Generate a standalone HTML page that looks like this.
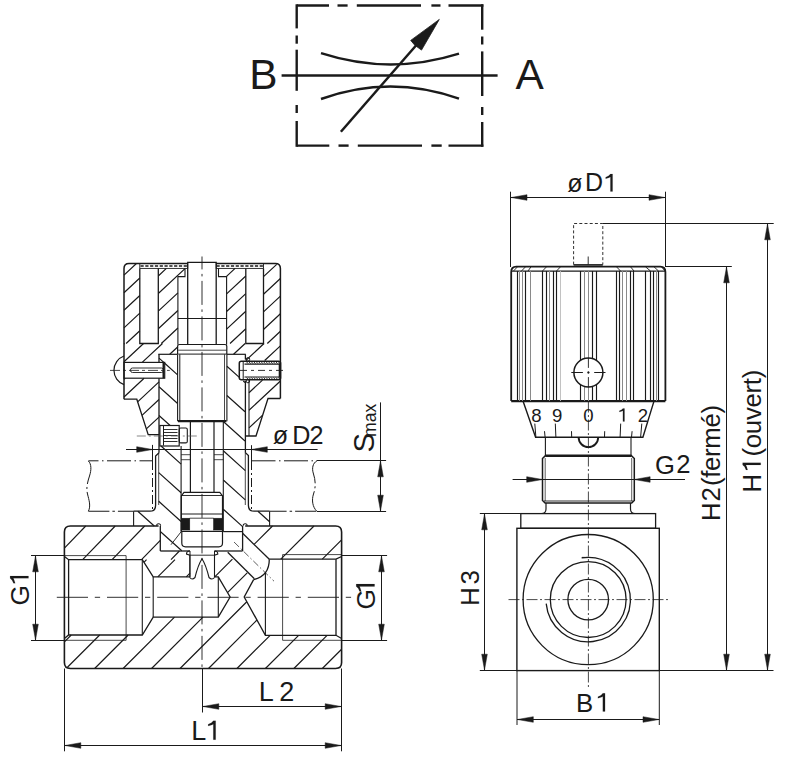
<!DOCTYPE html>
<html><head><meta charset="utf-8"><style>
html,body{margin:0;padding:0;background:#fff;}
body{width:788px;height:765px;overflow:hidden;}
svg{display:block;}
text{font-family:"Liberation Sans",sans-serif;fill:#1a1a1a;}
</style></head><body>
<svg width="788" height="765" viewBox="0 0 788 765">
<rect width="788" height="765" fill="#fff"/>
<line x1="296.7" y1="5.5" x2="329" y2="5.5" stroke="#1a1a1a" stroke-width="2.4" stroke-linecap="butt"/>
<line x1="337.5" y1="5.5" x2="347.6" y2="5.5" stroke="#1a1a1a" stroke-width="2.4" stroke-linecap="butt"/>
<line x1="356.8" y1="5.5" x2="421" y2="5.5" stroke="#1a1a1a" stroke-width="2.4" stroke-linecap="butt"/>
<line x1="431.4" y1="5.5" x2="440.5" y2="5.5" stroke="#1a1a1a" stroke-width="2.4" stroke-linecap="butt"/>
<line x1="448.5" y1="5.5" x2="483.4" y2="5.5" stroke="#1a1a1a" stroke-width="2.4" stroke-linecap="butt"/>
<line x1="296.7" y1="145.6" x2="329.3" y2="145.6" stroke="#1a1a1a" stroke-width="2.4" stroke-linecap="butt"/>
<line x1="338.5" y1="145.6" x2="348.6" y2="145.6" stroke="#1a1a1a" stroke-width="2.4" stroke-linecap="butt"/>
<line x1="357.8" y1="145.6" x2="422" y2="145.6" stroke="#1a1a1a" stroke-width="2.4" stroke-linecap="butt"/>
<line x1="431.4" y1="145.6" x2="441.7" y2="145.6" stroke="#1a1a1a" stroke-width="2.4" stroke-linecap="butt"/>
<line x1="448.5" y1="145.6" x2="483.4" y2="145.6" stroke="#1a1a1a" stroke-width="2.4" stroke-linecap="butt"/>
<line x1="296.7" y1="4.3" x2="296.7" y2="28.4" stroke="#1a1a1a" stroke-width="2.4" stroke-linecap="butt"/>
<line x1="296.7" y1="35.5" x2="296.7" y2="43.7" stroke="#1a1a1a" stroke-width="2.4" stroke-linecap="butt"/>
<line x1="296.7" y1="49.7" x2="296.7" y2="90.8" stroke="#1a1a1a" stroke-width="2.4" stroke-linecap="butt"/>
<line x1="296.7" y1="105" x2="296.7" y2="113" stroke="#1a1a1a" stroke-width="2.4" stroke-linecap="butt"/>
<line x1="296.7" y1="121" x2="296.7" y2="146.8" stroke="#1a1a1a" stroke-width="2.4" stroke-linecap="butt"/>
<line x1="482.2" y1="4.3" x2="482.2" y2="29.7" stroke="#1a1a1a" stroke-width="2.4" stroke-linecap="butt"/>
<line x1="482.2" y1="36.5" x2="482.2" y2="44.5" stroke="#1a1a1a" stroke-width="2.4" stroke-linecap="butt"/>
<line x1="482.2" y1="51.4" x2="482.2" y2="96" stroke="#1a1a1a" stroke-width="2.4" stroke-linecap="butt"/>
<line x1="482.2" y1="107" x2="482.2" y2="115" stroke="#1a1a1a" stroke-width="2.4" stroke-linecap="butt"/>
<line x1="482.2" y1="122" x2="482.2" y2="146.8" stroke="#1a1a1a" stroke-width="2.4" stroke-linecap="butt"/>
<line x1="281.6" y1="75.5" x2="497.6" y2="75.5" stroke="#1a1a1a" stroke-width="2.3" stroke-linecap="butt"/>
<path d="M321 53.2 Q390 75.5 459 53.7" fill="none" stroke="#1a1a1a" stroke-width="2.4" stroke-linecap="butt"/>
<path d="M321 99 Q390 74.2 459 98.7" fill="none" stroke="#1a1a1a" stroke-width="2.4" stroke-linecap="butt"/>
<line x1="340.9" y1="131.8" x2="416" y2="45.5" stroke="#1a1a1a" stroke-width="2.5" stroke-linecap="butt"/>
<polygon points="439.3,19.4 410.7,40.4 414.8,45.2 421.5,50.1" fill="#1a1a1a" stroke="#1a1a1a" stroke-width="0.8" stroke-linejoin="miter"/>
<line x1="588.2" y1="256.5" x2="588.2" y2="264.6" stroke="#1a1a1a" stroke-width="0.9" stroke-linecap="butt"/>
<line x1="588.4" y1="401.5" x2="588.4" y2="688" stroke="#1a1a1a" stroke-width="0.8" stroke-linecap="butt" stroke-dasharray="11 2.5 2 2.5"/>
<polyline points="573.6,264.6 573.6,223.5 602.8,223.5 602.8,264.6" fill="none" stroke="#1a1a1a" stroke-width="0.9" stroke-linejoin="miter" stroke-dasharray="3 2.2"/>
<line x1="573.6" y1="264.9" x2="602.8" y2="264.9" stroke="#1a1a1a" stroke-width="1.6" stroke-linecap="butt"/>
<line x1="602.8" y1="223.5" x2="773.7" y2="223.5" stroke="#1a1a1a" stroke-width="1" stroke-linecap="butt"/>
<line x1="665.5" y1="266.5" x2="731.8" y2="266.5" stroke="#1a1a1a" stroke-width="1" stroke-linecap="butt"/>
<line x1="510.5" y1="191.7" x2="510.5" y2="267" stroke="#1a1a1a" stroke-width="1" stroke-linecap="butt"/>
<line x1="665.5" y1="191.7" x2="665.5" y2="267" stroke="#1a1a1a" stroke-width="1" stroke-linecap="butt"/>
<line x1="510.5" y1="197.5" x2="665.5" y2="197.5" stroke="#1a1a1a" stroke-width="1" stroke-linecap="butt"/>
<polygon points="511.2,197.5 527,194.7 527,200.3" fill="#1a1a1a" stroke="#1a1a1a" stroke-width="0.5" stroke-linejoin="miter"/>
<polygon points="664.8,197.5 649,194.7 649,200.3" fill="#1a1a1a" stroke="#1a1a1a" stroke-width="0.5" stroke-linejoin="miter"/>
<path d="M511.2 401 L511.2 272 Q511.2 266.6 516.3 266.6 L660.3 266.6 Q665.4 266.6 665.4 272 L665.4 401" fill="none" stroke="#1a1a1a" stroke-width="1.8" stroke-linecap="butt"/>
<line x1="511.2" y1="271.2" x2="665.4" y2="271.2" stroke="#1a1a1a" stroke-width="1.3" stroke-linecap="butt"/>
<line x1="511.2" y1="401.1" x2="665.4" y2="401.1" stroke="#1a1a1a" stroke-width="2.2" stroke-linecap="butt"/>
<line x1="517.5" y1="271" x2="517.5" y2="401" stroke="#1a1a1a" stroke-width="1.15" stroke-linecap="butt"/>
<line x1="519.5" y1="271" x2="519.5" y2="401" stroke="#8a8a8a" stroke-width="1" stroke-linecap="butt"/>
<line x1="522.5" y1="271" x2="522.5" y2="401" stroke="#8a8a8a" stroke-width="1" stroke-linecap="butt"/>
<line x1="525.5" y1="271" x2="525.5" y2="401" stroke="#1a1a1a" stroke-width="1.15" stroke-linecap="butt"/>
<line x1="530.5" y1="271" x2="530.5" y2="401" stroke="#8a8a8a" stroke-width="1" stroke-linecap="butt"/>
<line x1="542.5" y1="271" x2="542.5" y2="401" stroke="#1a1a1a" stroke-width="1.15" stroke-linecap="butt"/>
<line x1="546.5" y1="271" x2="546.5" y2="401" stroke="#1a1a1a" stroke-width="1.15" stroke-linecap="butt"/>
<line x1="549.5" y1="271" x2="549.5" y2="401" stroke="#8a8a8a" stroke-width="1" stroke-linecap="butt"/>
<line x1="553.5" y1="271" x2="553.5" y2="401" stroke="#1a1a1a" stroke-width="1.15" stroke-linecap="butt"/>
<line x1="556.5" y1="271" x2="556.5" y2="401" stroke="#1a1a1a" stroke-width="1.15" stroke-linecap="butt"/>
<line x1="560.5" y1="271" x2="560.5" y2="401" stroke="#bbbbbb" stroke-width="0.9" stroke-linecap="butt"/>
<line x1="580.5" y1="271" x2="580.5" y2="401" stroke="#1a1a1a" stroke-width="1.15" stroke-linecap="butt"/>
<line x1="584.5" y1="271" x2="584.5" y2="401" stroke="#8a8a8a" stroke-width="1" stroke-linecap="butt"/>
<line x1="588.5" y1="271" x2="588.5" y2="401" stroke="#8a8a8a" stroke-width="1" stroke-linecap="butt"/>
<line x1="592.5" y1="271" x2="592.5" y2="401" stroke="#1a1a1a" stroke-width="1.15" stroke-linecap="butt"/>
<line x1="596.5" y1="271" x2="596.5" y2="401" stroke="#1a1a1a" stroke-width="1.15" stroke-linecap="butt"/>
<line x1="616.5" y1="271" x2="616.5" y2="401" stroke="#1a1a1a" stroke-width="1.15" stroke-linecap="butt"/>
<line x1="619.5" y1="271" x2="619.5" y2="401" stroke="#1a1a1a" stroke-width="1.15" stroke-linecap="butt"/>
<line x1="622.5" y1="271" x2="622.5" y2="401" stroke="#8a8a8a" stroke-width="1" stroke-linecap="butt"/>
<line x1="626.5" y1="271" x2="626.5" y2="401" stroke="#8a8a8a" stroke-width="1" stroke-linecap="butt"/>
<line x1="630.5" y1="271" x2="630.5" y2="401" stroke="#1a1a1a" stroke-width="1.15" stroke-linecap="butt"/>
<line x1="633.5" y1="271" x2="633.5" y2="401" stroke="#1a1a1a" stroke-width="1.15" stroke-linecap="butt"/>
<line x1="645.5" y1="271" x2="645.5" y2="401" stroke="#1a1a1a" stroke-width="1.15" stroke-linecap="butt"/>
<line x1="650.5" y1="271" x2="650.5" y2="401" stroke="#1a1a1a" stroke-width="1.15" stroke-linecap="butt"/>
<line x1="653.5" y1="271" x2="653.5" y2="401" stroke="#1a1a1a" stroke-width="1.15" stroke-linecap="butt"/>
<line x1="656.5" y1="271" x2="656.5" y2="401" stroke="#8a8a8a" stroke-width="1" stroke-linecap="butt"/>
<line x1="658.5" y1="271" x2="658.5" y2="401" stroke="#1a1a1a" stroke-width="1.15" stroke-linecap="butt"/>
<line x1="517.5" y1="266.8" x2="513.5" y2="271" stroke="#1a1a1a" stroke-width="0.9" stroke-linecap="butt"/>
<line x1="525.5" y1="266.8" x2="521.5" y2="271" stroke="#1a1a1a" stroke-width="0.9" stroke-linecap="butt"/>
<line x1="531" y1="266.8" x2="528" y2="271" stroke="#1a1a1a" stroke-width="0.9" stroke-linecap="butt"/>
<line x1="546.5" y1="266.8" x2="542.5" y2="271" stroke="#1a1a1a" stroke-width="0.9" stroke-linecap="butt"/>
<line x1="560.5" y1="266.8" x2="556.5" y2="271" stroke="#1a1a1a" stroke-width="0.9" stroke-linecap="butt"/>
<line x1="616.5" y1="266.8" x2="620.5" y2="271" stroke="#1a1a1a" stroke-width="0.9" stroke-linecap="butt"/>
<line x1="630.5" y1="266.8" x2="634" y2="271" stroke="#1a1a1a" stroke-width="0.9" stroke-linecap="butt"/>
<line x1="645.5" y1="266.8" x2="650.5" y2="271" stroke="#1a1a1a" stroke-width="0.9" stroke-linecap="butt"/>
<line x1="654" y1="266.8" x2="658.5" y2="271" stroke="#1a1a1a" stroke-width="0.9" stroke-linecap="butt"/>
<line x1="661.5" y1="266.8" x2="665" y2="271" stroke="#1a1a1a" stroke-width="0.9" stroke-linecap="butt"/>
<circle cx="588.4" cy="372.5" r="14.5" fill="#fff" stroke="#1a1a1a" stroke-width="1.5"/>
<line x1="571.3" y1="372.5" x2="582.9" y2="372.5" stroke="#1a1a1a" stroke-width="1" stroke-linecap="butt"/>
<line x1="594.2" y1="372.5" x2="605.5" y2="372.5" stroke="#1a1a1a" stroke-width="1" stroke-linecap="butt"/>
<line x1="588.4" y1="358" x2="588.4" y2="367.9" stroke="#1a1a1a" stroke-width="0.9" stroke-linecap="butt"/>
<line x1="588.4" y1="377.1" x2="588.4" y2="387" stroke="#1a1a1a" stroke-width="0.9" stroke-linecap="butt"/>
<circle cx="588.4" cy="372.5" r="0.9" fill="#1a1a1a" stroke="#1a1a1a" stroke-width="0.5"/>
<polyline points="523,401.1 535.6,437.3 642.9,437.3 654,401.1" fill="none" stroke="#1a1a1a" stroke-width="1.4" stroke-linejoin="miter"/>
<line x1="534.8" y1="423.6" x2="535.9" y2="437.3" stroke="#1a1a1a" stroke-width="1" stroke-linecap="butt"/>
<line x1="544.5" y1="431.2" x2="545.1" y2="437.3" stroke="#1a1a1a" stroke-width="1" stroke-linecap="butt"/>
<line x1="555.3" y1="423.6" x2="555.9" y2="437.3" stroke="#1a1a1a" stroke-width="1" stroke-linecap="butt"/>
<line x1="571.5" y1="431.2" x2="571.7" y2="437.3" stroke="#1a1a1a" stroke-width="1" stroke-linecap="butt"/>
<line x1="604.7" y1="431.2" x2="604.5" y2="437.3" stroke="#1a1a1a" stroke-width="1" stroke-linecap="butt"/>
<line x1="620.7" y1="423.6" x2="620.1" y2="437.3" stroke="#1a1a1a" stroke-width="1" stroke-linecap="butt"/>
<line x1="632.1" y1="431.2" x2="631.5" y2="437.3" stroke="#1a1a1a" stroke-width="1" stroke-linecap="butt"/>
<line x1="641.8" y1="423.6" x2="640.6" y2="437.3" stroke="#1a1a1a" stroke-width="1" stroke-linecap="butt"/>
<path d="M578.6 437.3 A9.8 9.8 0 0 0 598.2 437.3" fill="none" stroke="#1a1a1a" stroke-width="1.9" stroke-linecap="butt"/>
<line x1="545.4" y1="437.3" x2="545.4" y2="455.7" stroke="#1a1a1a" stroke-width="1.1" stroke-linecap="butt"/>
<line x1="631" y1="437.3" x2="631" y2="455.7" stroke="#1a1a1a" stroke-width="1.1" stroke-linecap="butt"/>
<path d="M542.5 500.5 L542.5 458.5 L545.3 455.7 L631.5 455.7 L634.3 458.5 L634.3 500.5 L631.7 503 L545.1 503 Z" fill="none" stroke="#1a1a1a" stroke-width="1.5" stroke-linecap="butt"/>
<line x1="545.3" y1="455.7" x2="631.5" y2="455.7" stroke="#1a1a1a" stroke-width="2.6" stroke-linecap="butt"/>
<line x1="545.2" y1="458" x2="545.2" y2="501" stroke="#1a1a1a" stroke-width="0.7" stroke-linecap="butt"/>
<line x1="631.7" y1="458" x2="631.7" y2="501" stroke="#1a1a1a" stroke-width="0.7" stroke-linecap="butt"/>
<line x1="544" y1="501" x2="633" y2="501" stroke="#1a1a1a" stroke-width="0.9" stroke-linecap="butt"/>
<path d="M546.0 503 L546.0 509 Q546.0 513.5 541.5 513.5" fill="none" stroke="#1a1a1a" stroke-width="1.2" stroke-linecap="butt"/>
<path d="M630.5 503 L630.5 509 Q630.5 513.5 635 513.5" fill="none" stroke="#1a1a1a" stroke-width="1.2" stroke-linecap="butt"/>
<rect x="520.8" y="513.6" width="134.8" height="14.7" rx="0" fill="none" stroke="#1a1a1a" stroke-width="1.3"/>
<rect x="516.9" y="528.3" width="142.4" height="142.3" rx="0" fill="none" stroke="#1a1a1a" stroke-width="1.4"/>
<circle cx="588.2" cy="599.6" r="65.1" fill="none" stroke="#1a1a1a" stroke-width="1.3"/>
<circle cx="588.2" cy="599.6" r="37.9" fill="none" stroke="#1a1a1a" stroke-width="1.3"/>
<circle cx="588.2" cy="599.6" r="20.3" fill="none" stroke="#1a1a1a" stroke-width="1.3"/>
<path d="M581.6 557.92 A42.2 42.2 0 1 1 546.19 603.57" fill="none" stroke="#1a1a1a" stroke-width="1.3" stroke-linecap="butt"/>
<line x1="582" y1="557.4" x2="589" y2="557.4" stroke="#1a1a1a" stroke-width="1" stroke-linecap="butt"/>
<line x1="508.5" y1="599.6" x2="668.6" y2="599.6" stroke="#1a1a1a" stroke-width="0.8" stroke-linecap="butt" stroke-dasharray="11 2.5 2 2.5"/>
<line x1="512.6" y1="479.5" x2="685" y2="479.5" stroke="#1a1a1a" stroke-width="1" stroke-linecap="butt"/>
<polygon points="542.5,479.5 526.7,476.7 526.7,482.3" fill="#1a1a1a" stroke="#1a1a1a" stroke-width="0.5" stroke-linejoin="miter"/>
<polygon points="634.3,479.5 650.1,476.7 650.1,482.3" fill="#1a1a1a" stroke="#1a1a1a" stroke-width="0.5" stroke-linejoin="miter"/>
<line x1="479.8" y1="513.5" x2="520.8" y2="513.5" stroke="#1a1a1a" stroke-width="1" stroke-linecap="butt"/>
<line x1="479.8" y1="670.5" x2="773.5" y2="670.5" stroke="#1a1a1a" stroke-width="1" stroke-linecap="butt"/>
<line x1="484.5" y1="513.5" x2="484.5" y2="670.5" stroke="#1a1a1a" stroke-width="1" stroke-linecap="butt"/>
<polygon points="484.5,514 481.7,529.8 487.3,529.8" fill="#1a1a1a" stroke="#1a1a1a" stroke-width="0.5" stroke-linejoin="miter"/>
<polygon points="484.5,670 481.7,654.2 487.3,654.2" fill="#1a1a1a" stroke="#1a1a1a" stroke-width="0.5" stroke-linejoin="miter"/>
<line x1="726.5" y1="266.5" x2="726.5" y2="670.5" stroke="#1a1a1a" stroke-width="1" stroke-linecap="butt"/>
<polygon points="726.5,267 723.7,282.8 729.3,282.8" fill="#1a1a1a" stroke="#1a1a1a" stroke-width="0.5" stroke-linejoin="miter"/>
<polygon points="726.5,670 723.7,654.2 729.3,654.2" fill="#1a1a1a" stroke="#1a1a1a" stroke-width="0.5" stroke-linejoin="miter"/>
<line x1="767.5" y1="223.5" x2="767.5" y2="670.5" stroke="#1a1a1a" stroke-width="1" stroke-linecap="butt"/>
<polygon points="767.5,224 764.7,239.8 770.3,239.8" fill="#1a1a1a" stroke="#1a1a1a" stroke-width="0.5" stroke-linejoin="miter"/>
<polygon points="767.5,670 764.7,654.2 770.3,654.2" fill="#1a1a1a" stroke="#1a1a1a" stroke-width="0.5" stroke-linejoin="miter"/>
<line x1="517" y1="670.5" x2="517" y2="725" stroke="#1a1a1a" stroke-width="1" stroke-linecap="butt"/>
<line x1="659.3" y1="670.5" x2="659.3" y2="725" stroke="#1a1a1a" stroke-width="1" stroke-linecap="butt"/>
<line x1="517" y1="719.5" x2="659.3" y2="719.5" stroke="#1a1a1a" stroke-width="1" stroke-linecap="butt"/>
<polygon points="517.5,719.5 533.3,716.7 533.3,722.3" fill="#1a1a1a" stroke="#1a1a1a" stroke-width="0.5" stroke-linejoin="miter"/>
<polygon points="658.8,719.5 643,716.7 643,722.3" fill="#1a1a1a" stroke="#1a1a1a" stroke-width="0.5" stroke-linejoin="miter"/>
<path d="M64.4 548.1L85.75 526M82.66 559.7L115.2 526M112.11 559.7L144.65 526M141.56 559.7L160.3 540.3M171.02 559.7L179.42 551" stroke="#1a1a1a" stroke-width="1.2" fill="none"/>
<path d="M254.07 544.43L272.5 526M280.8 559.2L314 526M322.3 559.2L341.6 539.9" stroke="#1a1a1a" stroke-width="1.2" fill="none"/>
<path d="M64.4 641.84L71.24 635M143.94 562.3L146.54 559.7M67.46 667.24L99.7 635M157.8 576.9L175 559.7M94.66 668.5L128.16 635M186.26 576.9L190 573.16M123.12 668.5L174.52 617.1M214.72 576.9L232.42 559.2M151.58 668.5L202.98 617.1M227.5 592.58L247.22 572.86M180.04 668.5L246.82 601.72M208.5 668.5L256.96 620.04M236.96 668.5L270.16 635.3M265.42 668.5L298.62 635.3M293.88 668.5L327.08 635.3M322.34 668.5L341.6 649.24" stroke="#1a1a1a" stroke-width="1.2" fill="none"/>
<path d="M70.4 526 L158.6 526 M245.2 526 L335.6 526 Q341.6 526 341.6 532 L341.6 662.5 Q341.6 668.5 335.6 668.5 L70.4 668.5 Q64.4 668.5 64.4 662.5 L64.4 532 Q64.4 526 70.4 526" fill="none" stroke="#1a1a1a" stroke-width="1.6" stroke-linecap="butt"/>
<path d="M156.6 525.8 A2 2 0 1 1 160.6 525.8" fill="none" stroke="#1a1a1a" stroke-width="1.1" stroke-linecap="butt"/>
<path d="M243.2 525.8 A2 2 0 1 1 247.2 525.8" fill="none" stroke="#1a1a1a" stroke-width="1.1" stroke-linecap="butt"/>
<line x1="64.4" y1="555.6" x2="126.1" y2="555.6" stroke="#1a1a1a" stroke-width="0.8" stroke-linecap="butt"/>
<line x1="64.4" y1="640.3" x2="126.1" y2="640.3" stroke="#1a1a1a" stroke-width="0.8" stroke-linecap="butt"/>
<line x1="126.1" y1="555.6" x2="126.1" y2="640.3" stroke="#1a1a1a" stroke-width="0.8" stroke-linecap="butt"/>
<polyline points="64.4,556.5 68.6,559.7 142.3,559.7 153.2,576.9 190,576.9" fill="none" stroke="#1a1a1a" stroke-width="1.3" stroke-linejoin="miter"/>
<polyline points="64.4,638.5 68.6,635 142.3,635 153.2,617.1 218.3,617.1 230.1,597 218.3,576.9 214.5,576.9" fill="none" stroke="#1a1a1a" stroke-width="1.3" stroke-linejoin="miter"/>
<line x1="68.6" y1="559.7" x2="68.6" y2="635" stroke="#1a1a1a" stroke-width="1.3" stroke-linecap="butt"/>
<line x1="142.3" y1="559.7" x2="142.3" y2="635" stroke="#1a1a1a" stroke-width="1.1" stroke-linecap="butt"/>
<line x1="153.2" y1="576.9" x2="153.2" y2="617.1" stroke="#1a1a1a" stroke-width="1.1" stroke-linecap="butt"/>
<line x1="218.3" y1="576.9" x2="218.3" y2="617.1" stroke="#1a1a1a" stroke-width="1.1" stroke-linecap="butt"/>
<line x1="282.6" y1="554.6" x2="341.6" y2="554.6" stroke="#1a1a1a" stroke-width="0.8" stroke-linecap="butt"/>
<line x1="282.6" y1="640.3" x2="341.6" y2="640.3" stroke="#1a1a1a" stroke-width="0.8" stroke-linecap="butt"/>
<line x1="282.6" y1="554.6" x2="282.6" y2="640.3" stroke="#1a1a1a" stroke-width="0.8" stroke-linecap="butt"/>
<polyline points="341.6,556.5 336,559.2 269.3,559.2" fill="none" stroke="#1a1a1a" stroke-width="1.3" stroke-linejoin="miter"/>
<path d="M269.3 559.2 Q269.3 576 253.6 579.6" fill="none" stroke="#1a1a1a" stroke-width="1.3" stroke-linecap="butt"/>
<polyline points="253.6,579.6 244.2,597 265.4,635.3 336,635.3 341.6,638.5" fill="none" stroke="#1a1a1a" stroke-width="1.3" stroke-linejoin="miter"/>
<line x1="336" y1="559.2" x2="336" y2="635.3" stroke="#1a1a1a" stroke-width="1.3" stroke-linecap="butt"/>
<line x1="265.4" y1="572.5" x2="265.4" y2="635.3" stroke="#1a1a1a" stroke-width="1.1" stroke-linecap="butt"/>
<line x1="242.6" y1="533.3" x2="269.3" y2="559.2" stroke="#1a1a1a" stroke-width="1.3" stroke-linecap="butt"/>
<line x1="227.7" y1="552.2" x2="254.4" y2="578.8" stroke="#1a1a1a" stroke-width="1.3" stroke-linecap="butt"/>
<line x1="234" y1="542" x2="274" y2="581.2" stroke="#1a1a1a" stroke-width="0.7" stroke-linecap="butt" stroke-dasharray="7 2.5 1.5 2.5"/>
<line x1="160.3" y1="526" x2="160.3" y2="551" stroke="#1a1a1a" stroke-width="1.3" stroke-linecap="butt"/>
<line x1="160.3" y1="551" x2="190" y2="551" stroke="#1a1a1a" stroke-width="1.3" stroke-linecap="butt"/>
<line x1="214.5" y1="551" x2="242.6" y2="551" stroke="#1a1a1a" stroke-width="1.3" stroke-linecap="butt"/>
<line x1="242.6" y1="526" x2="242.6" y2="551" stroke="#1a1a1a" stroke-width="1.3" stroke-linecap="butt"/>
<line x1="190" y1="551" x2="190" y2="576.9" stroke="#1a1a1a" stroke-width="1" stroke-linecap="butt"/>
<line x1="214.5" y1="551" x2="214.5" y2="576.9" stroke="#1a1a1a" stroke-width="1" stroke-linecap="butt"/>
<line x1="50.7" y1="597.3" x2="351.4" y2="597.3" stroke="#1a1a1a" stroke-width="0.9" stroke-linecap="butt" stroke-dasharray="31.2 6.8 5.3 6.9" stroke-dashoffset="44.1"/>
<path d="M159 358.08L163.8 362.4M164.7 363.21L177.6 374.83M159 386.78L177.6 403.53M159 415.48L170.13 425.5M161.02 446L181.1 464.08M158.7 472.61L181.1 492.78M158.7 501.31L181.1 521.48M137.81 511.2L154.25 526M160.3 531.45L181.79 550.8" stroke="#1a1a1a" stroke-width="1.2" fill="none"/>
<path d="M226.9 366.26L239.3 377.42M243.27 381L245 382.56M226.9 395.51L245 411.81M223.3 421.52L245 441.06M223.3 450.77L245.3 470.58M223.3 480.02L245.3 499.83M257.93 511.2L269.6 521.71M223.3 509.27L242.6 526.65" stroke="#1a1a1a" stroke-width="1.2" fill="none"/>
<line x1="159" y1="354.3" x2="159" y2="362.4" stroke="#1a1a1a" stroke-width="1.3" stroke-linecap="butt"/>
<line x1="159" y1="378.2" x2="159" y2="452.8" stroke="#1a1a1a" stroke-width="1.3" stroke-linecap="butt"/>
<line x1="245.4" y1="354.3" x2="245.4" y2="359.5" stroke="#1a1a1a" stroke-width="1.3" stroke-linecap="butt"/>
<line x1="245.4" y1="381" x2="245.4" y2="452.4" stroke="#1a1a1a" stroke-width="1.3" stroke-linecap="butt"/>
<path d="M159 452.8 L155.6 456 L155.6 505.5 Q155.6 511.2 150 511.2 L133.6 511.2" fill="none" stroke="#1a1a1a" stroke-width="1.3" stroke-linecap="butt"/>
<line x1="88.4" y1="511.2" x2="133.6" y2="511.2" stroke="#1a1a1a" stroke-width="1.1" stroke-linecap="butt" stroke-dasharray="21 3 2.5 3" stroke-dashoffset="0"/>
<line x1="158.7" y1="452.8" x2="158.7" y2="505" stroke="#1a1a1a" stroke-width="0.8" stroke-linecap="butt"/>
<path d="M245.2 452.4 L248.4 455.6 L248.4 505.5 Q248.4 511.2 254 511.2 L269.6 511.2" fill="none" stroke="#1a1a1a" stroke-width="1.3" stroke-linecap="butt"/>
<line x1="269.6" y1="511.2" x2="316.8" y2="511.2" stroke="#1a1a1a" stroke-width="1.1" stroke-linecap="butt" stroke-dasharray="21 3 2.5 3" stroke-dashoffset="4"/>
<line x1="245.3" y1="452.4" x2="245.3" y2="505" stroke="#1a1a1a" stroke-width="0.8" stroke-linecap="butt"/>
<line x1="133.6" y1="511.2" x2="133.6" y2="526" stroke="#1a1a1a" stroke-width="1.1" stroke-linecap="butt"/>
<line x1="269.6" y1="511.2" x2="269.6" y2="526" stroke="#1a1a1a" stroke-width="1.1" stroke-linecap="butt"/>
<line x1="177.6" y1="354.3" x2="177.6" y2="421.2" stroke="#1a1a1a" stroke-width="1.1" stroke-linecap="butt"/>
<line x1="179.8" y1="354.3" x2="179.8" y2="421.2" stroke="#1a1a1a" stroke-width="1" stroke-linecap="butt"/>
<line x1="226.9" y1="354.3" x2="226.9" y2="421.2" stroke="#1a1a1a" stroke-width="1.1" stroke-linecap="butt"/>
<line x1="224.5" y1="354.3" x2="224.5" y2="421.2" stroke="#1a1a1a" stroke-width="0.8" stroke-linecap="butt"/>
<line x1="181.1" y1="446" x2="181.1" y2="531.4" stroke="#1a1a1a" stroke-width="1.1" stroke-linecap="butt"/>
<line x1="223.3" y1="421.2" x2="223.3" y2="531.8" stroke="#1a1a1a" stroke-width="1.1" stroke-linecap="butt"/>
<line x1="223.3" y1="531.6" x2="242.6" y2="531.6" stroke="#1a1a1a" stroke-width="1.2" stroke-linecap="butt"/>
<line x1="171" y1="544.7" x2="181.4" y2="531.4" stroke="#1a1a1a" stroke-width="0.9" stroke-linecap="butt"/>
<path d="M124 275.09L136.43 263.5M124 292.69L139.8 277.95M124 310.29L139.8 295.55M124 327.89L139.8 313.15M126.13 343.5L139.8 330.75" stroke="#1a1a1a" stroke-width="1.2" fill="none"/>
<path d="M158.3 275.94L166.38 268.4M158.3 293.54L185 268.64M158.3 311.14L177.9 292.86M158.3 328.74L177.9 310.46M161.34 343.5L177.9 328.06" stroke="#1a1a1a" stroke-width="1.2" fill="none"/>
<path d="M124 344.15L124.7 343.5M124 361.75L143.57 343.5M124 379.35L125.23 378.2M142.18 362.4L162.45 343.5M124 396.95L144.11 378.2M169.74 354.3L177.9 346.69M137.64 401.83L159 381.91M141.99 415.37L159 399.51M146.34 428.92L159 417.11" stroke="#1a1a1a" stroke-width="1.2" fill="none"/>
<path d="M263.5 276.67L276.73 264.33M263.5 294.27L280.4 278.51M263.5 311.87L280.4 296.11M263.5 329.47L280.4 313.71M267.32 343.5L280.4 331.31" stroke="#1a1a1a" stroke-width="1.2" fill="none"/>
<path d="M226.27 276.6L235.06 268.4M226.6 293.89L245.8 275.99M226.6 311.49L245.8 293.59M226.6 329.09L245.8 311.19M230.02 343.5L245.8 328.79" stroke="#1a1a1a" stroke-width="1.2" fill="none"/>
<path d="M233.56 354.3L245.14 343.5M245.78 360.5L264.01 343.5M264.66 360.5L280.4 345.82M249 392.7L262.51 380.1M249 410.3L280.4 381.02M249 427.9L262.67 415.15" stroke="#1a1a1a" stroke-width="1.2" fill="none"/>
<line x1="249" y1="380.1" x2="249" y2="436" stroke="#1a1a1a" stroke-width="1.1" stroke-linecap="butt"/>
<path d="M124 399.2 L124 268.5 Q124 263.5 129 263.5 L187.7 263.5 M216.2 263.5 L275.4 263.5 Q280.4 263.5 280.4 268.5 L280.4 398.5" fill="none" stroke="#1a1a1a" stroke-width="1.5" stroke-linecap="butt"/>
<polyline points="124,399.2 136.8,399.2 148.2,434.7 159,434.7" fill="none" stroke="#1a1a1a" stroke-width="1.3" stroke-linejoin="miter"/>
<polyline points="280.4,398.5 268,398.5 256,436 245.4,436" fill="none" stroke="#1a1a1a" stroke-width="1.3" stroke-linejoin="miter"/>
<polyline points="139.8,268.4 139.8,343.5 158.3,343.5 158.3,268.4" fill="none" stroke="#1a1a1a" stroke-width="1.3" stroke-linejoin="miter"/>
<polyline points="263.5,268.4 263.5,343.5 245.8,343.5 245.8,268.4" fill="none" stroke="#1a1a1a" stroke-width="1.3" stroke-linejoin="miter"/>
<rect x="139.8" y="263.5" width="47.9" height="4.9" rx="0" fill="none" stroke="#1a1a1a" stroke-width="0.9"/>
<rect x="216.2" y="263.5" width="47.3" height="4.9" rx="0" fill="none" stroke="#1a1a1a" stroke-width="0.9"/>
<line x1="140.5" y1="266" x2="187" y2="266" stroke="#1a1a1a" stroke-width="1.6" stroke-linecap="butt" stroke-dasharray="3.2 1.6"/>
<line x1="216.5" y1="266" x2="263" y2="266" stroke="#1a1a1a" stroke-width="1.6" stroke-linecap="butt" stroke-dasharray="3.2 1.6"/>
<polyline points="185,268.4 185,276.6 177.9,276.6 177.9,344.7" fill="none" stroke="#1a1a1a" stroke-width="1.1" stroke-linejoin="miter"/>
<polyline points="218.5,268.4 218.5,276.6 226.6,276.6 226.6,344.7" fill="none" stroke="#1a1a1a" stroke-width="1.1" stroke-linejoin="miter"/>
<line x1="158.3" y1="354.3" x2="177.6" y2="354.3" stroke="#1a1a1a" stroke-width="1.2" stroke-linecap="butt"/>
<line x1="226.6" y1="354.3" x2="245.8" y2="354.3" stroke="#1a1a1a" stroke-width="1.2" stroke-linecap="butt"/>
<path d="M187.7 344 L187.7 262.3 L216.2 262.3 L216.2 344" fill="none" stroke="#1a1a1a" stroke-width="1.3" stroke-linecap="butt"/>
<line x1="177.9" y1="318.5" x2="226.6" y2="318.5" stroke="#1a1a1a" stroke-width="1" stroke-linecap="butt"/>
<path d="M177.6 354.1 L177.6 346.5 Q177.6 344.5 179.6 344.5 L224.8 344.5 Q226.8 344.5 226.8 346.5 L226.8 354.1" fill="none" stroke="#1a1a1a" stroke-width="1.2" stroke-linecap="butt"/>
<line x1="178.2" y1="350.2" x2="226.6" y2="350.2" stroke="#1a1a1a" stroke-width="0.8" stroke-linecap="butt"/>
<line x1="178.2" y1="354.1" x2="226.6" y2="354.1" stroke="#1a1a1a" stroke-width="1" stroke-linecap="butt"/>
<line x1="178" y1="421.2" x2="226.4" y2="421.2" stroke="#1a1a1a" stroke-width="2.2" stroke-linecap="butt"/>
<line x1="190.4" y1="421.2" x2="190.4" y2="492.4" stroke="#1a1a1a" stroke-width="1.2" stroke-linecap="butt"/>
<line x1="214" y1="421.2" x2="214" y2="492.4" stroke="#1a1a1a" stroke-width="1.2" stroke-linecap="butt"/>
<line x1="181.1" y1="454.7" x2="190.4" y2="454.7" stroke="#1a1a1a" stroke-width="0.8" stroke-linecap="butt"/>
<line x1="214" y1="454.7" x2="223.3" y2="454.7" stroke="#1a1a1a" stroke-width="0.8" stroke-linecap="butt"/>
<line x1="181.1" y1="459.7" x2="190.4" y2="459.7" stroke="#1a1a1a" stroke-width="0.8" stroke-linecap="butt"/>
<line x1="214" y1="459.7" x2="223.3" y2="459.7" stroke="#1a1a1a" stroke-width="0.8" stroke-linecap="butt"/>
<path d="M181.3 531.4 L181.3 496 L184 492.4 L219.8 492.4 L222.5 496 L222.5 531.4" fill="none" stroke="#1a1a1a" stroke-width="1.2" stroke-linecap="butt"/>
<line x1="181.3" y1="495.5" x2="222.5" y2="495.5" stroke="#1a1a1a" stroke-width="0.9" stroke-linecap="butt"/>
<line x1="181.3" y1="514" x2="222.5" y2="514" stroke="#1a1a1a" stroke-width="1" stroke-linecap="butt"/>
<rect x="181.4" y="518.2" width="8.4" height="11.8" rx="0" fill="#1a1a1a" stroke="#1a1a1a" stroke-width="0.5"/>
<rect x="213.5" y="518.2" width="8.8" height="11.8" rx="0" fill="#1a1a1a" stroke="#1a1a1a" stroke-width="0.5"/>
<line x1="189.8" y1="518.2" x2="213.5" y2="518.2" stroke="#1a1a1a" stroke-width="0.8" stroke-linecap="butt"/>
<line x1="181.3" y1="531.4" x2="223.3" y2="531.4" stroke="#1a1a1a" stroke-width="1.3" stroke-linecap="butt"/>
<path d="M181.8 531.4 L181.8 543 Q181.8 546.8 185.5 546.8 L218.8 546.8 Q222.5 546.8 222.5 543 L222.5 531.4" fill="none" stroke="#1a1a1a" stroke-width="1.2" stroke-linecap="butt"/>
<path d="M189.8 551 Q186.5 551 186.5 554 L189.8 555.2 L189.8 577.5 M214.5 551 Q217.8 551 217.8 554 L214.5 555.2 L214.5 577.5" fill="none" stroke="#1a1a1a" stroke-width="1.1" stroke-linecap="butt"/>
<line x1="189.8" y1="555.2" x2="214.5" y2="555.2" stroke="#1a1a1a" stroke-width="0.9" stroke-linecap="butt"/>
<path d="M189.8 577.5 Q192 580.5 195 577.5 Q198 565 202 558.7 Q206 565 209 577.5 Q212 580.5 214.5 577.5" fill="none" stroke="#1a1a1a" stroke-width="1.1" stroke-linecap="butt"/>
<path d="M124 356 A15.2 15.2 0 0 0 124 384.6" fill="none" stroke="#1a1a1a" stroke-width="1.2" stroke-linecap="butt"/>
<rect x="124" y="362.4" width="40.7" height="15.8" rx="0" fill="none" stroke="#1a1a1a" stroke-width="1.2"/>
<rect x="130.5" y="368" width="33" height="4.5" rx="2" fill="none" stroke="#1a1a1a" stroke-width="0.9"/>
<line x1="110" y1="370.4" x2="169.8" y2="370.4" stroke="#1a1a1a" stroke-width="0.8" stroke-linecap="butt" stroke-dasharray="10 3 3 3"/>
<line x1="163.3" y1="362.4" x2="163.3" y2="378.2" stroke="#1a1a1a" stroke-width="1.6" stroke-linecap="butt"/>
<rect x="239.3" y="361.2" width="41.3" height="18.6" rx="2" fill="none" stroke="#1a1a1a" stroke-width="1.5"/>
<line x1="244.5" y1="364.1" x2="280.6" y2="364.1" stroke="#1a1a1a" stroke-width="1.2" stroke-linecap="butt"/>
<line x1="244.5" y1="377" x2="280.6" y2="377" stroke="#1a1a1a" stroke-width="1.2" stroke-linecap="butt"/>
<line x1="246.5" y1="361.8" x2="248.1" y2="363.6" stroke="#1a1a1a" stroke-width="0.9" stroke-linecap="butt"/>
<line x1="246.5" y1="377.5" x2="248.1" y2="379.3" stroke="#1a1a1a" stroke-width="0.9" stroke-linecap="butt"/>
<line x1="248.95" y1="361.8" x2="250.55" y2="363.6" stroke="#1a1a1a" stroke-width="0.9" stroke-linecap="butt"/>
<line x1="248.95" y1="377.5" x2="250.55" y2="379.3" stroke="#1a1a1a" stroke-width="0.9" stroke-linecap="butt"/>
<line x1="251.4" y1="361.8" x2="253" y2="363.6" stroke="#1a1a1a" stroke-width="0.9" stroke-linecap="butt"/>
<line x1="251.4" y1="377.5" x2="253" y2="379.3" stroke="#1a1a1a" stroke-width="0.9" stroke-linecap="butt"/>
<line x1="253.85" y1="361.8" x2="255.45" y2="363.6" stroke="#1a1a1a" stroke-width="0.9" stroke-linecap="butt"/>
<line x1="253.85" y1="377.5" x2="255.45" y2="379.3" stroke="#1a1a1a" stroke-width="0.9" stroke-linecap="butt"/>
<line x1="256.3" y1="361.8" x2="257.9" y2="363.6" stroke="#1a1a1a" stroke-width="0.9" stroke-linecap="butt"/>
<line x1="256.3" y1="377.5" x2="257.9" y2="379.3" stroke="#1a1a1a" stroke-width="0.9" stroke-linecap="butt"/>
<line x1="258.75" y1="361.8" x2="260.35" y2="363.6" stroke="#1a1a1a" stroke-width="0.9" stroke-linecap="butt"/>
<line x1="258.75" y1="377.5" x2="260.35" y2="379.3" stroke="#1a1a1a" stroke-width="0.9" stroke-linecap="butt"/>
<line x1="261.2" y1="361.8" x2="262.8" y2="363.6" stroke="#1a1a1a" stroke-width="0.9" stroke-linecap="butt"/>
<line x1="261.2" y1="377.5" x2="262.8" y2="379.3" stroke="#1a1a1a" stroke-width="0.9" stroke-linecap="butt"/>
<line x1="263.65" y1="361.8" x2="265.25" y2="363.6" stroke="#1a1a1a" stroke-width="0.9" stroke-linecap="butt"/>
<line x1="263.65" y1="377.5" x2="265.25" y2="379.3" stroke="#1a1a1a" stroke-width="0.9" stroke-linecap="butt"/>
<line x1="266.1" y1="361.8" x2="267.7" y2="363.6" stroke="#1a1a1a" stroke-width="0.9" stroke-linecap="butt"/>
<line x1="266.1" y1="377.5" x2="267.7" y2="379.3" stroke="#1a1a1a" stroke-width="0.9" stroke-linecap="butt"/>
<line x1="268.55" y1="361.8" x2="270.15" y2="363.6" stroke="#1a1a1a" stroke-width="0.9" stroke-linecap="butt"/>
<line x1="268.55" y1="377.5" x2="270.15" y2="379.3" stroke="#1a1a1a" stroke-width="0.9" stroke-linecap="butt"/>
<line x1="271" y1="361.8" x2="272.6" y2="363.6" stroke="#1a1a1a" stroke-width="0.9" stroke-linecap="butt"/>
<line x1="271" y1="377.5" x2="272.6" y2="379.3" stroke="#1a1a1a" stroke-width="0.9" stroke-linecap="butt"/>
<line x1="273.45" y1="361.8" x2="275.05" y2="363.6" stroke="#1a1a1a" stroke-width="0.9" stroke-linecap="butt"/>
<line x1="273.45" y1="377.5" x2="275.05" y2="379.3" stroke="#1a1a1a" stroke-width="0.9" stroke-linecap="butt"/>
<line x1="275.9" y1="361.8" x2="277.5" y2="363.6" stroke="#1a1a1a" stroke-width="0.9" stroke-linecap="butt"/>
<line x1="275.9" y1="377.5" x2="277.5" y2="379.3" stroke="#1a1a1a" stroke-width="0.9" stroke-linecap="butt"/>
<line x1="278.35" y1="361.8" x2="279.95" y2="363.6" stroke="#1a1a1a" stroke-width="0.9" stroke-linecap="butt"/>
<line x1="278.35" y1="377.5" x2="279.95" y2="379.3" stroke="#1a1a1a" stroke-width="0.9" stroke-linecap="butt"/>
<line x1="243.2" y1="361.2" x2="243.2" y2="379.8" stroke="#1a1a1a" stroke-width="1" stroke-linecap="butt"/>
<line x1="279.6" y1="363.5" x2="279.6" y2="377.5" stroke="#1a1a1a" stroke-width="1.8" stroke-linecap="butt"/>
<line x1="240" y1="370.4" x2="284" y2="370.4" stroke="#1a1a1a" stroke-width="0.9" stroke-linecap="butt" stroke-dasharray="7 4 3 4"/>
<circle cx="247.9" cy="359.4" r="1.8" fill="none" stroke="#1a1a1a" stroke-width="1"/>
<circle cx="247.9" cy="381" r="1.8" fill="none" stroke="#1a1a1a" stroke-width="1"/>
<rect x="159.9" y="425.5" width="19.3" height="20.5" rx="0" fill="none" stroke="#1a1a1a" stroke-width="1.2"/>
<rect x="179.2" y="428" width="8.1" height="14.9" rx="1.5" fill="none" stroke="#1a1a1a" stroke-width="1.1"/>
<line x1="163.5" y1="429.5" x2="177.5" y2="429.5" stroke="#1a1a1a" stroke-width="0.9" stroke-linecap="butt"/>
<line x1="163.5" y1="432.5" x2="177.5" y2="432.5" stroke="#1a1a1a" stroke-width="0.9" stroke-linecap="butt"/>
<line x1="163.5" y1="435.5" x2="177.5" y2="435.5" stroke="#1a1a1a" stroke-width="0.9" stroke-linecap="butt"/>
<line x1="163.5" y1="438.5" x2="177.5" y2="438.5" stroke="#1a1a1a" stroke-width="0.9" stroke-linecap="butt"/>
<line x1="163.5" y1="441.5" x2="177.5" y2="441.5" stroke="#1a1a1a" stroke-width="0.9" stroke-linecap="butt"/>
<line x1="163.5" y1="426" x2="163.5" y2="445.5" stroke="#1a1a1a" stroke-width="1" stroke-linecap="butt"/>
<line x1="136.8" y1="436" x2="199.5" y2="436" stroke="#555" stroke-width="0.7" stroke-linecap="butt" stroke-dasharray="9 3 2 3"/>
<path d="M88.4 461 C91.5 464 91.5 470 89.5 476 C87.5 482 86 488 87.5 494 C89 500 91 506 88.4 511.2" fill="none" stroke="#1a1a1a" stroke-width="1" stroke-linecap="butt" stroke-dasharray="24 3 2 3"/>
<line x1="88.4" y1="460.8" x2="152.5" y2="460.8" stroke="#1a1a1a" stroke-width="1" stroke-linecap="butt" stroke-dasharray="24 3.5 1.5 3.5" stroke-dashoffset="13.9"/>
<path d="M316.8 461 C313 463 311.5 468 313.5 474 C315.5 480 316 487 313.5 494 C311.5 500 312.5 507 316.8 511.2" fill="none" stroke="#1a1a1a" stroke-width="1" stroke-linecap="butt" stroke-dasharray="24 3 2 3"/>
<line x1="251.5" y1="460.8" x2="316.8" y2="460.8" stroke="#1a1a1a" stroke-width="1" stroke-linecap="butt" stroke-dasharray="24 3.5 1.5 3.5" stroke-dashoffset="0"/>
<line x1="316.8" y1="460.5" x2="386.1" y2="460.5" stroke="#1a1a1a" stroke-width="1" stroke-linecap="butt"/>
<line x1="316.8" y1="511.5" x2="386.1" y2="511.5" stroke="#1a1a1a" stroke-width="1" stroke-linecap="butt"/>
<line x1="152.5" y1="444.9" x2="152.5" y2="461" stroke="#1a1a1a" stroke-width="1" stroke-linecap="butt"/>
<line x1="152.5" y1="461" x2="152.5" y2="511.2" stroke="#1a1a1a" stroke-width="1" stroke-linecap="butt" stroke-dasharray="9 3 2 3"/>
<line x1="251.5" y1="445.2" x2="251.5" y2="461" stroke="#1a1a1a" stroke-width="1" stroke-linecap="butt"/>
<line x1="251.5" y1="461" x2="251.5" y2="511.2" stroke="#1a1a1a" stroke-width="1" stroke-linecap="butt" stroke-dasharray="9 3 2 3"/>
<line x1="202" y1="256.5" x2="202" y2="668.5" stroke="#1a1a1a" stroke-width="0.9" stroke-linecap="butt" stroke-dasharray="24 4.5 2.5 4.5" stroke-dashoffset="11.1"/>
<line x1="202.5" y1="668.5" x2="202.5" y2="712.5" stroke="#1a1a1a" stroke-width="1" stroke-linecap="butt"/>
<line x1="126" y1="449.5" x2="317.6" y2="449.5" stroke="#1a1a1a" stroke-width="1" stroke-linecap="butt"/>
<polygon points="152.5,449.5 136.7,446.7 136.7,452.3" fill="#1a1a1a" stroke="#1a1a1a" stroke-width="0.5" stroke-linejoin="miter"/>
<polygon points="251.5,449.5 267.3,446.7 267.3,452.3" fill="#1a1a1a" stroke="#1a1a1a" stroke-width="0.5" stroke-linejoin="miter"/>
<line x1="380.5" y1="402.4" x2="380.5" y2="511.5" stroke="#1a1a1a" stroke-width="1" stroke-linecap="butt"/>
<polygon points="380.5,461 377.7,476.8 383.3,476.8" fill="#1a1a1a" stroke="#1a1a1a" stroke-width="0.5" stroke-linejoin="miter"/>
<polygon points="380.5,511 377.7,495.2 383.3,495.2" fill="#1a1a1a" stroke="#1a1a1a" stroke-width="0.5" stroke-linejoin="miter"/>
<line x1="31" y1="555.5" x2="64.4" y2="555.5" stroke="#1a1a1a" stroke-width="1" stroke-linecap="butt"/>
<line x1="31" y1="640.5" x2="64.4" y2="640.5" stroke="#1a1a1a" stroke-width="1" stroke-linecap="butt"/>
<line x1="35.5" y1="555.5" x2="35.5" y2="640.5" stroke="#1a1a1a" stroke-width="1" stroke-linecap="butt"/>
<polygon points="35.5,556 32.7,571.8 38.3,571.8" fill="#1a1a1a" stroke="#1a1a1a" stroke-width="0.5" stroke-linejoin="miter"/>
<polygon points="35.5,640 32.7,624.2 38.3,624.2" fill="#1a1a1a" stroke="#1a1a1a" stroke-width="0.5" stroke-linejoin="miter"/>
<line x1="341.6" y1="555.5" x2="387.1" y2="555.5" stroke="#1a1a1a" stroke-width="1" stroke-linecap="butt"/>
<line x1="341.6" y1="640.5" x2="387.1" y2="640.5" stroke="#1a1a1a" stroke-width="1" stroke-linecap="butt"/>
<line x1="381.5" y1="555.5" x2="381.5" y2="640.5" stroke="#1a1a1a" stroke-width="1" stroke-linecap="butt"/>
<polygon points="381.5,556 378.7,571.8 384.3,571.8" fill="#1a1a1a" stroke="#1a1a1a" stroke-width="0.5" stroke-linejoin="miter"/>
<polygon points="381.5,640 378.7,624.2 384.3,624.2" fill="#1a1a1a" stroke="#1a1a1a" stroke-width="0.5" stroke-linejoin="miter"/>
<line x1="64.5" y1="668.5" x2="64.5" y2="751.3" stroke="#1a1a1a" stroke-width="1" stroke-linecap="butt"/>
<line x1="341.5" y1="668.5" x2="341.5" y2="751.3" stroke="#1a1a1a" stroke-width="1" stroke-linecap="butt"/>
<line x1="64.5" y1="745.5" x2="341.5" y2="745.5" stroke="#1a1a1a" stroke-width="1" stroke-linecap="butt"/>
<polygon points="65,745.5 80.8,742.7 80.8,748.3" fill="#1a1a1a" stroke="#1a1a1a" stroke-width="0.5" stroke-linejoin="miter"/>
<polygon points="341,745.5 325.2,742.7 325.2,748.3" fill="#1a1a1a" stroke="#1a1a1a" stroke-width="0.5" stroke-linejoin="miter"/>
<line x1="202.5" y1="706.5" x2="341.5" y2="706.5" stroke="#1a1a1a" stroke-width="1" stroke-linecap="butt"/>
<polygon points="203,706.5 218.8,703.7 218.8,709.3" fill="#1a1a1a" stroke="#1a1a1a" stroke-width="0.5" stroke-linejoin="miter"/>
<polygon points="341,706.5 325.2,703.7 325.2,709.3" fill="#1a1a1a" stroke="#1a1a1a" stroke-width="0.5" stroke-linejoin="miter"/>
<text x="249.3" y="89" font-size="42.4">B</text>
<text x="515.4" y="88.5" font-size="42.4">A</text>
<text x="567.2" y="192" font-size="25">&#248;</text>
<text x="585.1" y="191" font-size="25">D</text>
<text x="654.9" y="474" font-size="25.6">G</text>
<text x="676.3" y="473" font-size="25.6">2</text>
<text x="576" y="712" font-size="25.8">B</text>
<text x="272.8" y="443.5" font-size="25.2">&#248;</text>
<text x="292.3" y="443.5" font-size="25.2">D</text>
<text x="309.5" y="443.5" font-size="25.2">2</text>
<text x="258.8" y="700.5" font-size="27">L</text>
<text x="279.2" y="700.5" font-size="27">2</text>
<text x="191.3" y="739.5" font-size="27">L</text>
<text x="531.2" y="421.5" font-size="18.6">8</text>
<text x="551.9" y="421.5" font-size="18.6">9</text>
<text x="583.3" y="422" font-size="18.6">0</text>
<text x="637.8" y="421.5" font-size="18.6">2</text>
<text transform="translate(479 0) rotate(-90)" x="-606" y="0" font-size="26">H</text>
<text transform="translate(479 0) rotate(-90)" x="-584.5" y="0" font-size="26">3</text>
<text transform="translate(28.5 0) rotate(-90)" x="-605.5" y="0" font-size="26.3">G</text>
<text transform="translate(375 0) rotate(-90)" x="-609.5" y="0" font-size="26.3">G</text>
<text transform="translate(373.5 0) rotate(-90)" x="-452.5" y="0" font-size="29.5">S</text>
<text transform="translate(375.5 0) rotate(-90)" x="-437" y="0" font-size="17.6">max</text>
<text transform="translate(719.5 0) rotate(-90)" x="-521" y="0" font-size="25.8">H</text>
<text transform="translate(719.5 0) rotate(-90)" x="-501.5" y="0" font-size="25.8">2</text>
<text transform="translate(720 0) rotate(-90)" x="-486" y="0" font-size="25.8" letter-spacing="-0.35">(ferm&#233;)</text>
<text transform="translate(760.5 0) rotate(-90)" x="-492.5" y="0" font-size="25.8">H</text>
<text transform="translate(760.5 0) rotate(-90)" x="-456.5" y="0" font-size="25.8" letter-spacing="-0.3">(ouvert)</text>
<polygon points="610.4,191.4 612.6,191.4 612.6,173.9 610.4,173.9 608.65,175.78 605.65,177.15 605.65,178.78 608.9,177.78 610.4,177.03" fill="#1a1a1a" stroke="#1a1a1a" stroke-width="0.1" stroke-linejoin="miter"/>
<polygon points="602.8,711.4 605.07,711.4 605.07,693.34 602.8,693.34 600.99,695.27 597.9,696.69 597.9,698.37 601.25,697.34 602.8,696.56" fill="#1a1a1a" stroke="#1a1a1a" stroke-width="0.1" stroke-linejoin="miter"/>
<polygon points="213.3,739.7 215.68,739.7 215.68,720.8 213.3,720.8 211.41,722.83 208.17,724.31 208.17,726.07 211.68,724.99 213.3,724.18" fill="#1a1a1a" stroke="#1a1a1a" stroke-width="0.1" stroke-linejoin="miter"/>
<polygon points="622.9,421.4 624.54,421.4 624.54,408.38 622.9,408.38 621.6,409.77 619.37,410.8 619.37,412.01 621.78,411.26 622.9,410.7" fill="#1a1a1a" stroke="#1a1a1a" stroke-width="0.1" stroke-linejoin="miter"/>
<polygon points="28.5,578.3 28.5,575.99 10.09,575.99 10.09,578.3 12.06,580.14 13.51,583.3 15.22,583.3 14.17,579.88 13.38,578.3" fill="#1a1a1a" stroke="#1a1a1a" stroke-width="0.1" stroke-linejoin="miter"/>
<polygon points="374.6,586.4 374.6,584.09 356.19,584.09 356.19,586.4 358.16,588.24 359.61,591.4 361.32,591.4 360.27,587.98 359.48,586.4" fill="#1a1a1a" stroke="#1a1a1a" stroke-width="0.1" stroke-linejoin="miter"/>
<polygon points="760.7,465 760.7,462.73 742.64,462.73 742.64,465 744.58,466.81 745.99,469.9 747.67,469.9 746.64,466.55 745.87,465" fill="#1a1a1a" stroke="#1a1a1a" stroke-width="0.1" stroke-linejoin="miter"/>
</svg>
</body></html>
